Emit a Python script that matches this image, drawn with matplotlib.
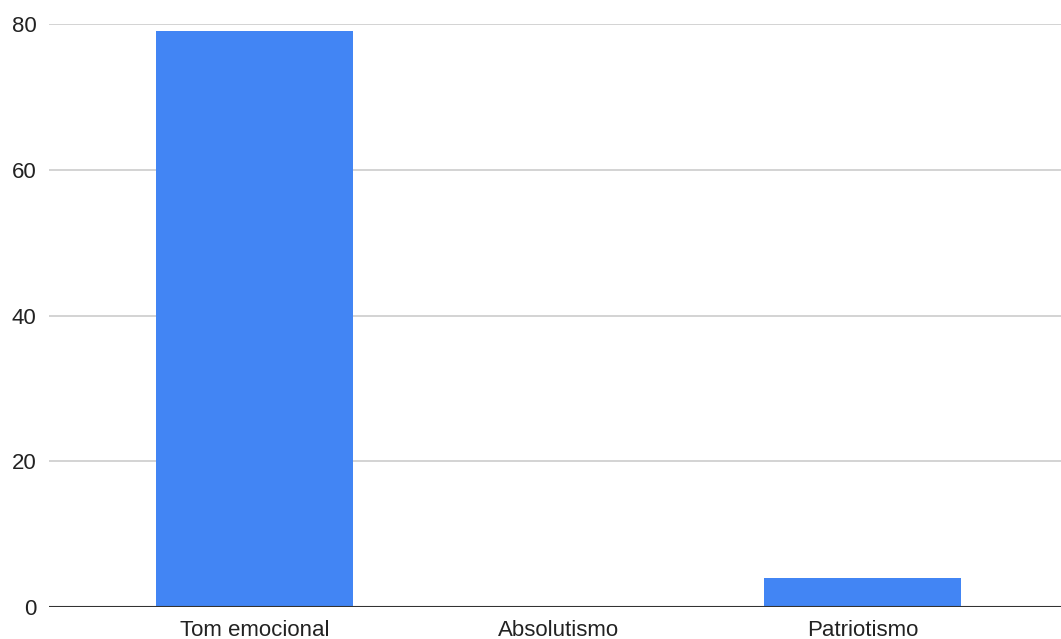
import matplotlib.pyplot as plt

plt.rcParams['font.family'] = ['Liberation Sans', 'DejaVu Sans']

# Values per category
categories = ['Tom emocional', 'Absolutismo', 'Patriotismo']
counts = [79, 0, 4]
y_ticks = [0, 20, 40, 60, 80]

fig = plt.figure(figsize=(10.61, 6.39), dpi=100)
ax = fig.add_axes([0.0462, 0.0501, 0.9538, 0.9123])

x = range(len(categories))
ax.bar(x, counts, width=0.648, color='#4285f4', zorder=3)

ax.set_xlim(-0.676, 2.653)
ax.set_ylim(0, 80)
ax.set_yticks(y_ticks)
ax.set_xticks(list(x))
ax.set_xticklabels(categories)

ax.grid(axis='y', color='#cccccc', linewidth=1.2, zorder=0)
ax.axhline(0, color='#333333', linewidth=1.5, zorder=4)
for side in ['top', 'right', 'left', 'bottom']:
    ax.spines[side].set_visible(False)
ax.tick_params(axis='both', length=0, labelsize=16, colors='#222222')
ax.tick_params(axis='y', pad=9)
ax.tick_params(axis='x', pad=9.5)

fig.savefig('out.png', dpi=100)
